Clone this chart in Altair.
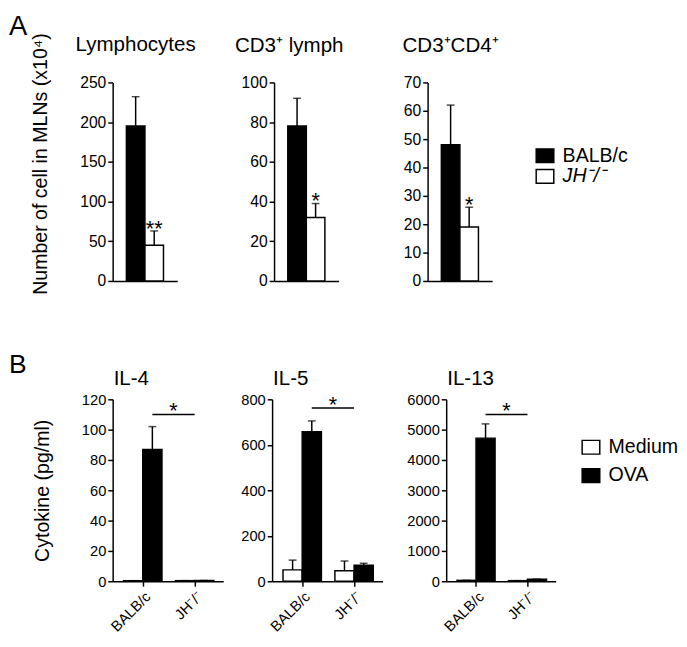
import altair as alt
import pandas as pd

FONT = "Liberation Sans"

# ---------------- Panel A data ----------------
a_panels = ["Lymphocytes", "CD3⁺ lymph", "CD3⁺CD4⁺"]
a_strains = ["BALB/c", "JH⁻/⁻"]
a_means = [[195, 45], [78, 32], [48, 19]]
a_sd = [[37, 18], [14, 7], [14, 7]]
a_stars = ["**", "*", "*"]
a_ymax = [250, 100, 70]
a_ystep = [50, 20, 10]
a_ytitle = "Number of cell in MLNs (x10⁴)"

# ---------------- Panel B data ----------------
b_panels = ["IL-4", "IL-5", "IL-13"]
b_groups = ["BALB/c", "JH⁻/⁻"]
b_treat = ["Medium", "OVA"]
b_means = [[[0.4, 87], [0.4, 0.5]],
           [[50, 657], [46, 70]],
           [[30, 4720], [20, 65]]]
b_sd = [[[0, 15], [0, 0]],
        [[43, 48], [43, 9]],
        [[0, 470], [0, 5]]]
b_sig = [110, 762, 5500]
b_ymax = [120, 800, 6000]
b_ystep = [20, 200, 1000]
b_ytitle = "Cytokine (pg/ml)"

AX = dict(domainColor="black", domainWidth=1.5, tickColor="black", tickWidth=1.5,
          tickSize=5, labelColor="black", labelFont=FONT, grid=False, labelOverlap=False,
          titleFont=FONT, titleColor="black", titleFontWeight="normal")

RECT = "M-1,-0.78H1V0.78H-1Z"
TITLE = dict(font=FONT, fontWeight="normal", color="black")


def panel_a(i):
    df = pd.DataFrame({"strain": a_strains, "mean": a_means[i], "sd": a_sd[i]})
    df["upper"] = df["mean"] + df["sd"]
    df["star"] = ["", a_stars[i]]
    yaxis = alt.Axis(values=list(range(0, a_ymax[i] + 1, a_ystep[i])), labelFontSize=16,
                     title=a_ytitle if i == 0 else None, titleFontSize=20,
                     titleX=-74, titleY=83, titleAlign="center", titleBaseline="middle",
                     titleAngle=270, format="d", **AX)
    xaxis = alt.Axis(title=None, labels=False, ticks=False, **AX)
    xsc = alt.Scale(paddingInner=0, paddingOuter=0.74)
    ysc = alt.Scale(domain=[0, a_ymax[i]], nice=False)
    x = alt.X("strain:N", sort=a_strains, scale=xsc, axis=xaxis)
    y = alt.Y("mean:Q", scale=ysc, axis=yaxis)
    yu = alt.Y("upper:Q", scale=ysc, axis=yaxis)
    if i == 2:
        leg = alt.Legend(title=None, orient="none", legendX=110, legendY=65,
                         symbolType=RECT, symbolSize=324, symbolStrokeColor="black",
                         symbolStrokeWidth=1.5, labelFont=FONT, labelFontSize=20,
                         labelColor="black", labelOffset=8, rowPadding=-1,
                         labelFontStyle={"expr": "datum.value == '%s' ? 'italic' : 'normal'" % a_strains[1]})
    else:
        leg = None
    fill = alt.Fill("strain:N", scale=alt.Scale(domain=a_strains, range=["black", "white"]),
                    legend=leg)
    base = alt.Chart(df)
    bars = base.mark_bar(stroke="black", strokeWidth=1.5).encode(x=x, y=y, fill=fill)
    rule = base.mark_rule(color="black", strokeWidth=1.5).encode(x=x, y=y, y2="upper:Q")
    cap = base.mark_tick(color="black", size=8, thickness=1.5,
                         orient="horizontal").encode(x=x, y=yu)
    star = base.mark_text(font=FONT, fontSize=22, baseline="alphabetic", dy=5,
                          color="black").encode(x=x, y=yu, text="star:N")
    dx = [-9.5, -17.5, -9.5][i]
    off = [-22.5, 19, 19][i]
    return alt.layer(bars, rule, cap, star).properties(
        width=66, height=203,
        title=alt.TitleParams(a_panels[i], fontSize=21, frame="group", anchor="middle",
                              dx=dx, offset=off, **TITLE))


BW = 0.37


def panel_b(i):
    rows = []
    for gi, g in enumerate(b_groups):
        for ti, t in enumerate(b_treat):
            m = b_means[i][gi][ti]
            s = b_sd[i][gi][ti]
            rows.append({"group": g, "treat": t, "x0": gi + (ti - 1) * BW,
                         "x1": gi + ti * BW, "xc": gi + (ti - 0.5) * BW,
                         "mean": m, "upper": m + s})
    df = pd.DataFrame(rows)
    sig = pd.DataFrame({"xa": [BW / 2], "xb": [1.0], "y": [b_sig[i]],
                        "xm": [(BW / 2 + 1) / 2], "t": ["*"]})
    expr = "datum.value == 0 ? '%s' : '%s'" % (b_groups[0], b_groups[1])
    xs = alt.Scale(domain=[-0.58, 1.55], nice=False, zero=False)
    xaxis = alt.Axis(values=[0, 1], labelExpr=expr, labelAngle=-45, labelAlign="right",
                     labelBaseline="top", labelFontSize=15, title=None, labelPadding=3, **AX)
    ys = alt.Scale(domain=[0, b_ymax[i]], nice=False)
    yaxis = alt.Axis(values=list(range(0, b_ymax[i] + 1, b_ystep[i])), labelFontSize=15,
                     title=b_ytitle if i == 0 else None, titleFontSize=20,
                     titleX=-72, titleY=93, titleAlign="center", titleBaseline="middle",
                     titleAngle=270, format="d", **AX)
    if i == 2:
        leg = alt.Legend(title=None, orient="none", legendX=138, legendY=39,
                         symbolType=RECT, symbolSize=324, symbolStrokeColor="black",
                         symbolStrokeWidth=1.5, labelFont=FONT, labelFontSize=20,
                         labelColor="black", labelOffset=8, rowPadding=7)
    else:
        leg = None
    fill = alt.Fill("treat:N", scale=alt.Scale(domain=b_treat, range=["white", "black"]),
                    legend=leg)
    X = lambda f: alt.X(f, scale=xs, axis=xaxis)
    Y = lambda f: alt.Y(f, scale=ys, axis=yaxis)
    base = alt.Chart(df)
    bars = base.mark_bar(stroke="black", strokeWidth=1.5).encode(
        x=X("x0:Q"), x2="x1:Q", y=Y("mean:Q"), y2=alt.datum(0), fill=fill)
    rule = base.mark_rule(color="black", strokeWidth=1.5).encode(
        x=X("xc:Q"), y=Y("mean:Q"), y2="upper:Q")
    cap = base.mark_tick(color="black", size=8, thickness=1.5,
                         orient="horizontal").encode(x=X("xc:Q"), y=Y("upper:Q"))
    sbase = alt.Chart(sig)
    srule = sbase.mark_rule(color="black", strokeWidth=1.5).encode(
        x=X("xa:Q"), x2="xb:Q", y=Y("y:Q"))
    stext = sbase.mark_text(font=FONT, fontSize=22, baseline="alphabetic", dy=4,
                            color="black").encode(x=X("xm:Q"), y=Y("y:Q"), text="t:N")
    return alt.layer(bars, rule, cap, srule, stext).properties(
        width=113 if i < 2 else 112, height=186,
        title=alt.TitleParams(b_panels[i], fontSize=21, frame="group", anchor="start",
                              dx=1, offset=4, **TITLE))


rowA_right = alt.hconcat(panel_a(1), panel_a(2), spacing=91, bounds="flush"
                         ).resolve_scale(fill="independent")
rowA = alt.hconcat(panel_a(0), rowA_right, spacing=99, bounds="flush",
                   title=alt.TitleParams("A", anchor="start", fontSize=28,
                                         dx=-22, offset=-8, **TITLE)
                   ).resolve_scale(fill="independent")
rowB_left = alt.hconcat(panel_b(0), panel_b(1), spacing=50, bounds="flush"
                        ).resolve_scale(fill="independent")
rowB = alt.hconcat(rowB_left, panel_b(2), spacing=341, bounds="flush",
                   title=alt.TitleParams("B", anchor="start", fontSize=27,
                                         dx=-24, offset=-10.6, **TITLE)
                   ).resolve_scale(fill="independent")

chart = alt.vconcat(rowA, rowB, spacing=324, bounds="flush").resolve_scale(
    fill="independent"
).properties(
    padding={"top": -2, "left": 0, "right": 0, "bottom": 0}
).configure_view(strokeWidth=0)

chart.save("out.html", embed_options={"renderer": "svg", "actions": False})
